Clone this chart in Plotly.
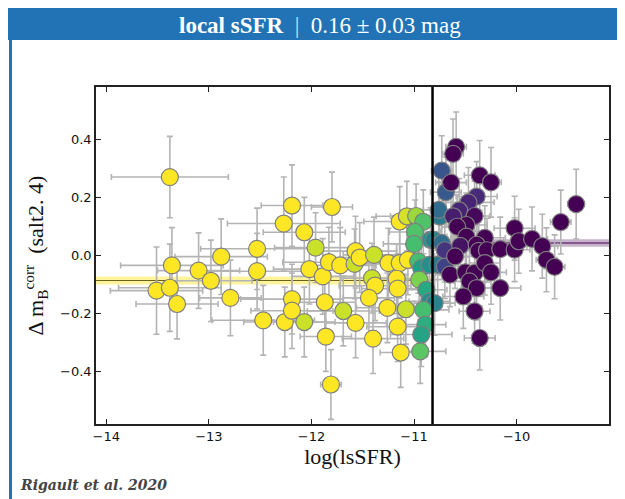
import plotly.graph_objects as go

# ---------------- data ----------------
# log(lsSFR), Delta m_B^corr, colour value (0 = purple/young ... 1 = yellow/old), x error, y error
x_vals = [
    -13.38, -13.36, -13.51, -13.38, -13.31, -13.10, -12.98, -12.88, -12.79, -12.53,
    -12.53, -12.47, -12.27, -12.19, -12.26, -12.19, -12.19, -12.07, -12.07, -12.02,
    -11.96, -11.89, -11.80, -11.83, -11.72, -11.58, -11.57, -11.53, -11.39, -11.41,
    -11.38, -11.44, -11.25, -11.14, -11.17, -11.16, -11.26, -11.08, -11.16, -11.13,
    -11.87, -11.69, -11.57, -11.86, -11.40, -11.81, -11.14, -11.07, -10.98, -10.91,
    -10.99, -11.00, -11.06, -10.96, -10.93, -10.85, -10.95, -10.88, -10.85, -10.80,
    -10.91, -10.89, -10.93, -10.94, -10.84, -10.81, -10.73, -10.77, -10.75, -10.76,
    -10.73, -10.69, -10.70, -10.70,
    -10.59, -10.62, -10.64, -10.36, -10.25, -10.39, -10.47, -10.56, -10.62, -10.41,
    -10.49, -10.58, -10.31, -10.49, -10.55, -10.39, -10.37, -10.29, -10.16, -10.02,
    -10.02, -9.98, -9.85, -9.75, -9.71, -9.63, -9.57, -9.42, -10.60, -10.65,
    -10.50, -10.41, -10.31, -10.25, -10.16, -10.46, -10.39, -10.52, -10.41, -10.36,
]
y_vals = [
    0.270, -0.034, -0.121, -0.111, -0.167, -0.052, -0.087, -0.004, -0.146, 0.023,
    -0.054, -0.223, 0.110, 0.172, -0.229, -0.150, -0.190, -0.229, 0.080, -0.047,
    0.027, -0.072, 0.167, -0.023, -0.034, -0.029, 0.015, -0.007, 0.002, -0.078,
    -0.104, -0.146, -0.026, -0.026, -0.080, -0.114, -0.180, -0.185, -0.245, -0.334,
    -0.161, -0.191, -0.232, -0.279, -0.286, -0.444, 0.117, 0.135, 0.136, 0.116,
    0.081, 0.040, -0.015, -0.020, -0.043, -0.032, -0.083, -0.118, -0.158, -0.164,
    -0.187, -0.238, -0.272, -0.330, 0.054, 0.054, 0.043, -0.032, 0.134, 0.157,
    0.292, 0.218, 0.018, -0.038,
    0.374, 0.350, 0.251, 0.276, 0.252, 0.203, 0.183, 0.155, 0.135, 0.136,
    0.105, 0.099, 0.061, 0.065, 0.033, 0.037, 0.016, 0.018, 0.022, 0.020,
    0.094, 0.049, 0.057, 0.032, -0.015, -0.039, 0.115, 0.177, -0.003, -0.066,
    -0.058, -0.060, -0.026, -0.058, -0.112, -0.089, -0.112, -0.141, -0.192, -0.284,
]
c_vals = [
    1, 1, 1, 1, 1, 1, 1, 1, 1, 1,
    1, 1, 1, 1, 1, 1, 1, 0.92, 1, 1,
    0.92, 1, 1, 1, 1, 0.92, 1, 1, 0.92, 0.92,
    1, 1, 1, 1, 1, 1, 1, 0.92, 1, 1,
    1, 0.92, 1, 1, 1, 1, 1, 0.94, 0.85, 0.72,
    0.72, 0.7, 1, 0.7, 0.56, 0.5, 0.8, 0.6, 0.5, 0.45,
    0.7, 0.62, 0.58, 0.74, 0.5, 0.45, 0.35, 0.4, 0.42, 0.35,
    0.27, 0.28, 0.15, 0.2,
    0, 0, 0, 0, 0, 0.12, 0.1, 0.1, 0.08, 0.02,
    0, 0, 0, 0, 0.05, 0, 0, 0, 0, 0,
    0, 0, 0, 0, 0, 0, 0, 0, 0, 0,
    0, 0, 0, 0, 0, 0, 0, 0, 0, 0,
]
xerr_vals = [
    0.57, 0.50, 0.45, 0.50, 0.40, 0.40, 0.40, 0.45, 0.30, 0.55,
    0.60, 0.50, 0.55, 0.30, 0.40, 0.50, 0.40, 0.30, 0.40, 0.35,
    0.40, 0.30, 0.20, 0.45, 0.35, 0.30, 0.40, 0.35, 0.30, 0.30,
    0.35, 0.25, 0.40, 0.45, 0.30, 0.35, 0.30, 0.25, 0.30, 0.20,
    0.30, 0.35, 0.30, 0.25, 0.30, 0.10, 0.35, 0.30, 0.25, 0.20,
    0.25, 0.30, 0.30, 0.25, 0.20, 0.20, 0.25, 0.20, 0.20, 0.20,
    0.25, 0.20, 0.30, 0.25, 0.20, 0.20, 0.15, 0.20, 0.15, 0.15,
    0.10, 0.15, 0.15, 0.20,
    0.10, 0.10, 0.15, 0.15, 0.10, 0.20, 0.25, 0.15, 0.20, 0.15,
    0.20, 0.15, 0.20, 0.15, 0.20, 0.15, 0.20, 0.15, 0.15, 0.15,
    0.20, 0.15, 0.15, 0.15, 0.10, 0.10, 0.10, 0.08, 0.20, 0.15,
    0.20, 0.20, 0.15, 0.15, 0.20, 0.15, 0.15, 0.20, 0.15, 0.15,
]
yerr_vals = [
    0.14, 0.13, 0.15, 0.15, 0.12, 0.13, 0.14, 0.13, 0.13, 0.14,
    0.13, 0.12, 0.16, 0.14, 0.12, 0.12, 0.13, 0.12, 0.12, 0.12,
    0.12, 0.13, 0.12, 0.12, 0.13, 0.12, 0.12, 0.12, 0.13, 0.12,
    0.12, 0.13, 0.12, 0.12, 0.12, 0.12, 0.12, 0.12, 0.12, 0.12,
    0.12, 0.12, 0.12, 0.12, 0.12, 0.12, 0.12, 0.12, 0.11, 0.11,
    0.11, 0.11, 0.12, 0.11, 0.11, 0.11, 0.11, 0.11, 0.11, 0.11,
    0.11, 0.11, 0.11, 0.11, 0.11, 0.11, 0.11, 0.11, 0.12, 0.12,
    0.12, 0.12, 0.11, 0.11,
    0.12, 0.12, 0.11, 0.12, 0.12, 0.12, 0.12, 0.11, 0.12, 0.12,
    0.11, 0.11, 0.11, 0.11, 0.11, 0.11, 0.11, 0.11, 0.11, 0.11,
    0.11, 0.11, 0.11, 0.11, 0.11, 0.11, 0.11, 0.12, 0.11, 0.11,
    0.11, 0.11, 0.11, 0.11, 0.11, 0.11, 0.11, 0.11, 0.11, 0.11,
]

x_ticks = [-14, -13, -12, -11, -10]
y_ticks = [-0.4, -0.2, 0.0, 0.2, 0.4]
x_range = [-14.10, -9.10]
y_range = [-0.58, 0.58]

split_x = -10.82          # vertical separation in log(lsSFR)
old_mean = -0.086         # mean of the old (yellow) population
old_err = 0.014
young_mean = 0.043        # mean of the young (purple) population
young_err = 0.013

title_bold = "local sSFR"
title_rest = "0.16 ± 0.03 mag"
credit = "Rigault et al. 2020"

# ---------------- geometry helpers ----------------
# The page body has an 8px margin, so the figure is drawn 8px in from the top-left.
OFF = 8
W, H = 617, 491
ML, MR, MT, MB = 88, 16, 79, 75
PW, PH = W - ML - MR, H - MT - MB


def px(xp):
    """screen x pixel (of the final picture) -> paper coordinate"""
    return (xp - OFF - ML) / PW


def py(yp):
    """screen y pixel (of the final picture) -> paper coordinate"""
    return (H - MB - (yp - OFF)) / PH


fig = go.Figure()

# population bands
fig.add_trace(go.Scatter(x=[x_range[0], split_x, split_x, x_range[0]],
                         y=[old_mean - old_err, old_mean - old_err, old_mean + old_err, old_mean + old_err],
                         fill="toself", fillcolor="rgba(253,231,37,0.45)", line=dict(width=0),
                         mode="lines", hoverinfo="skip", showlegend=False))
fig.add_trace(go.Scatter(x=[x_range[0], split_x], y=[old_mean, old_mean], mode="lines",
                         line=dict(color="#6e6216", width=1.2), hoverinfo="skip", showlegend=False))
fig.add_trace(go.Scatter(x=[split_x, x_range[1], x_range[1], split_x],
                         y=[young_mean - young_err, young_mean - young_err, young_mean + young_err, young_mean + young_err],
                         fill="toself", fillcolor="rgba(68,1,84,0.30)", line=dict(width=0),
                         mode="lines", hoverinfo="skip", showlegend=False))
fig.add_trace(go.Scatter(x=[split_x, x_range[1]], y=[young_mean, young_mean], mode="lines",
                         line=dict(color="#440154", width=1.2), hoverinfo="skip", showlegend=False))

# data points
fig.add_trace(go.Scatter(
    x=x_vals, y=y_vals, mode="markers",
    marker=dict(size=17, color=c_vals, colorscale="Viridis", cmin=0, cmax=1,
                line=dict(color="#7f7f7f", width=1.2), opacity=1),
    error_x=dict(type="data", array=xerr_vals, color="#b4b4b4", thickness=1.6, width=3),
    error_y=dict(type="data", array=yerr_vals, color="#b4b4b4", thickness=1.6, width=3),
    showlegend=False,
))

# separation line
fig.add_trace(go.Scatter(x=[split_x, split_x], y=y_range, mode="lines",
                         line=dict(color="black", width=2.5), hoverinfo="skip", showlegend=False))

axis_common = dict(showline=True, linecolor="#222", linewidth=1.5, mirror="ticks",
                   ticks="inside", ticklen=5, tickwidth=1, tickcolor="#222",
                   showgrid=False, zeroline=False,
                   tickfont=dict(family="DejaVu Sans", size=13, color="#111"))

fig.update_xaxes(range=x_range, tickvals=x_ticks, ticktext=[f"{t}".replace("-", "\u2212") for t in x_ticks],
                 title=dict(text="log(lsSFR)", font=dict(family="Liberation Serif", size=22, color="#111"),
                            standoff=4), **axis_common)
fig.update_yaxes(range=y_range, tickvals=y_ticks,
                 ticktext=[f"{t:.1f}".replace("-", "\u2212") for t in y_ticks],
                 title=dict(text="\u0394 m<sub>B</sub><sup>corr</sup>  (salt2. 4)",
                            font=dict(family="Liberation Serif", size=22, color="#111"), standoff=10),
                 **axis_common)

shapes = [
    # header bar
    dict(type="rect", xref="paper", yref="paper", x0=px(8), x1=px(640), y0=py(40), y1=py(-10),
         fillcolor="#2273b5", line=dict(width=0), layer="below"),
    # left blue rule
    dict(type="rect", xref="paper", yref="paper", x0=px(9), x1=px(12), y0=py(520), y1=py(40),
         fillcolor="#2273b5", line=dict(width=0), layer="below"),
]

annotations = [
    dict(xref="paper", yref="paper", x=px(320), y=py(25), xanchor="center", yanchor="middle",
         text=f"<b>{title_bold}</b>  <span style='color:#d5e3f0'>|</span>  {title_rest}", showarrow=False,
         font=dict(family="Liberation Serif", size=23, color="white")),
    dict(xref="paper", yref="paper", x=px(18), y=py(485), xanchor="left", yanchor="middle",
         text=f"<i><b>{credit}</b></i>", showarrow=False,
         font=dict(family="DejaVu Serif", size=14, color="#444444")),
]

fig.update_layout(width=W, height=H, margin=dict(l=ML, r=MR, t=MT, b=MB),
                  paper_bgcolor="white", plot_bgcolor="white",
                  shapes=shapes, annotations=annotations, showlegend=False)

fig.write_html("out.html")
